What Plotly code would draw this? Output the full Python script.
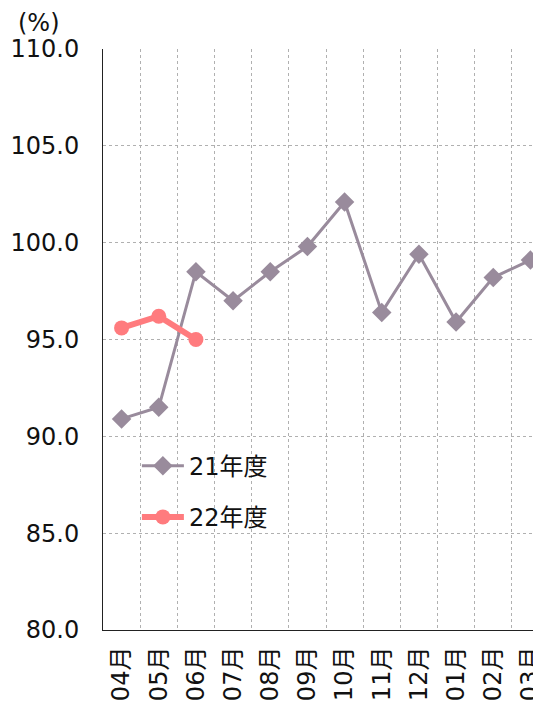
import plotly.graph_objects as go

months = ["04月", "05月", "06月", "07月", "08月", "09月", "10月", "11月", "12月", "01月", "02月", "03月"]
fy21 = [90.9, 91.5, 98.5, 97.0, 98.5, 99.8, 102.1, 96.4, 99.4, 95.9, 98.2, 99.1]
fy22 = [95.6, 96.2, 95.0]
y_ticks = [80, 85, 90, 95, 100, 105, 110]

FONT = "DejaVu Sans, Noto Sans CJK JP, sans-serif"
idx = list(range(len(months)))

fig = go.Figure()
fig.add_trace(go.Scatter(
    x=idx, y=fy21, name="21年度", mode="lines+markers",
    line=dict(color="#998b9c", width=3),
    marker=dict(symbol="diamond", size=15, color="#998b9c"),
    legend="legend",
))
fig.add_trace(go.Scatter(
    x=idx[:len(fy22)], y=fy22, name="22年度", mode="lines+markers",
    line=dict(color="#ff7b7e", width=6),
    marker=dict(symbol="circle", size=15, color="#ff7b7e"),
    legend="legend2",
))

grid_x = [i - 0.5 for i in range(len(months) + 1)]

fig.update_layout(
    width=541, height=706,
    margin=dict(l=95, r=0, t=41, b=84),
    paper_bgcolor="white", plot_bgcolor="white",
    font=dict(family=FONT, size=24, color="#111111"),
    showlegend=True,
    legend=dict(x=0.076, y=0.282, xanchor="left", yanchor="middle", itemwidth=42,
                bgcolor="rgba(0,0,0,0)", font=dict(size=24)),
    legend2=dict(x=0.076, y=0.194, xanchor="left", yanchor="middle", itemwidth=42,
                 bgcolor="rgba(0,0,0,0)", font=dict(size=24)),
    xaxis=dict(
        range=[-0.5, 11.5], automargin=False,
        tickmode="array", tickvals=idx, ticktext=months,
        tickangle=-90, ticks="", showgrid=False,
        showline=True, linecolor="#222222", linewidth=1,
        ticklabelstandoff=6,
        minor=dict(tickmode="array", tickvals=grid_x, showgrid=True,
                   gridcolor="#b0b0b0", griddash="dot", gridwidth=1, ticks=""),
        zeroline=False,
    ),
    yaxis=dict(
        range=[80, 110], tickmode="array", tickvals=y_ticks, automargin=False,
        tickformat=".1f", ticks="", showgrid=True,
        gridcolor="#b0b0b0", griddash="dot", gridwidth=1,
        showline=True, linecolor="#222222", linewidth=1,
        ticklabelstandoff=18, zeroline=False,
    ),
    annotations=[dict(text="(%)", xref="paper", yref="paper",
                      x=-0.144, y=1.045, xanchor="center", yanchor="middle",
                      showarrow=False, font=dict(size=24))],
)

fig.write_html("out.html")
